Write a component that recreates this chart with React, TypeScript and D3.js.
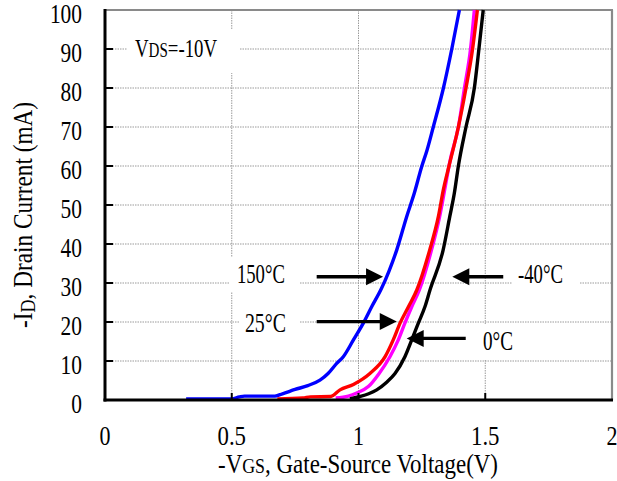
import React from 'react';
import * as d3 from 'd3';

// ---- data ----
const xTickValues = [0, 0.5, 1, 1.5, 2];
const xTickLabels = ['0', '0.5', '1', '1.5', '2'];
const yTickValues = [0, 10, 20, 30, 40, 50, 60, 70, 80, 90, 100];
const yTickLabels = ['0', '10', '20', '30', '40', '50', '60', '70', '80', '90', '100'];

const vgs150: number[] = [0.32, 0.5, 0.53, 0.55, 0.67, 0.7, 0.75, 0.8, 0.848, 0.88, 0.914, 0.94, 0.98, 1.019, 1.052, 1.09, 1.12, 1.151, 1.19, 1.22, 1.25, 1.27, 1.295, 1.335, 1.368, 1.398];
const id150: number[] = [0.3, 0.3, 0.8, 1.0, 1.0, 1.6, 2.7, 3.7, 5.1, 6.8, 9.4, 11.1, 15.4, 19.7, 23.9, 28.5, 33, 38.5, 47, 53, 60, 64, 70, 80, 90, 100];

const vgs25: number[] = [0.68, 0.78, 0.81, 0.89, 0.927, 0.98, 1.045, 1.105, 1.137, 1.164, 1.197, 1.23, 1.281, 1.315, 1.335, 1.357, 1.394, 1.424, 1.45, 1.469];
const id25: number[] = [0.3, 0.5, 0.8, 0.9, 2.6, 4.0, 6.8, 11.1, 15.4, 19.7, 23.9, 28.2, 38.5, 47, 54, 60, 70, 80, 90, 100];

const vgs0: number[] = [0.91, 0.96, 0.993, 1.04, 1.078, 1.124, 1.157, 1.183, 1.21, 1.24, 1.288, 1.32, 1.343, 1.36, 1.394, 1.418, 1.442, 1.457];
const id0: number[] = [0.5, 1.0, 1.8, 3.5, 6.5, 11.1, 15.4, 19.7, 23.9, 28.2, 38.5, 47, 55, 61, 70, 80, 90, 100];

const vgsM40: number[] = [0.966, 1.006, 1.04, 1.072, 1.11, 1.144, 1.183, 1.21, 1.236, 1.262, 1.282, 1.334, 1.36, 1.378, 1.394, 1.424, 1.457, 1.475, 1.492];
const idM40: number[] = [0.3, 0.9, 1.6, 2.6, 4.5, 6.8, 11.1, 15.4, 19.7, 23.9, 28.2, 38.5, 47, 53, 60, 70, 80, 90, 100];

const seriesNames = ['150°C', '25°C', '0°C', '-40°C'];

// ---- layout / style ----
const W = 617, H = 481;
const X0 = 105, X1 = 612, Y0 = 400, Y1 = 10;
const FONT = '"Liberation Serif", "Times New Roman", serif';

const x = d3.scaleLinear().domain([0, 2]).range([X0, X1]);
const y = d3.scaleLinear().domain([0, 100]).range([Y0, Y1]);

const seriesStyle = [
  { v: vgs150, i: id150, color: '#0000ff' },
  { v: vgs0, i: id0, color: '#ff00ff' },
  { v: vgs25, i: id25, color: '#ff0000' },
  { v: vgsM40, i: idM40, color: '#000000' },
];

// annotation: label name, label anchor (data), arrow tail/tip (data), label width, white box (px)
const annots = [
  { name: seriesNames[0], lv: 0.615, li: 29.9, w: 48, tail: 0.835, tip: 1.097, ai: 31.6, box: [230, 257, 70, 35] },
  { name: seriesNames[1], lv: 0.633, li: 17.5, w: 41, tail: 0.835, tip: 1.151, ai: 20.1, box: [240, 306, 60, 30] },
  { name: seriesNames[3], lv: 1.718, li: 30, w: 45, tail: 1.571, tip: 1.37, ai: 31.6, box: [512, 262, 68, 30] },
  { name: seriesNames[2], lv: 1.55, li: 12.8, w: 30, tail: 1.423, tip: 1.19, ai: 15.8, box: [476, 324, 55, 35] },
];

const line = d3
  .line<[number, number]>()
  .x((d) => x(d[0]))
  .y((d) => y(d[1]))
  .curve(d3.curveMonotoneX);

function Arrow({ tail, tip, ai }: { tail: number; tip: number; ai: number }) {
  const xt = x(tail), xp = x(tip), yy = y(ai);
  const dir = xp > xt ? 1 : -1;
  const hl = 17, hw = 8.5;
  const xb = xp - dir * hl;
  return (
    <g>
      <line x1={xt} y1={yy} x2={xb + dir * 1} y2={yy} stroke="#000" strokeWidth={3.4} />
      <polygon points={`${xp},${yy} ${xb},${yy - hw} ${xb},${yy + hw}`} fill="#000" />
    </g>
  );
}

export default function App() {
  return (
    <svg
      width={W}
      height={H}
      style={{ position: 'absolute', left: 0, top: 0, background: '#fff' }}
      fontFamily={FONT}
    >
      <rect x={0} y={0} width={W} height={H} fill="#fff" />
      {/* grid */}
      <g stroke="#9a9a9a" strokeWidth={1} strokeDasharray="1.5,1">
        {yTickValues.slice(1, -1).map((t) => (
          <line key={'gy' + t} x1={X0} x2={X1} y1={y(t)} y2={y(t)} />
        ))}
        {xTickValues.slice(1, -1).map((t) => (
          <line key={'gx' + t} x1={x(t)} x2={x(t)} y1={Y1} y2={Y0} />
        ))}
      </g>
      {/* gray top / right frame */}
      <line x1={X0} x2={X1 + 1} y1={Y1} y2={Y1} stroke="#8a8a8a" strokeWidth={2.2} />
      <line x1={X1} x2={X1} y1={Y1} y2={Y0} stroke="#8a8a8a" strokeWidth={2.2} />

      {/* white boxes behind labels */}
      <rect x={127} y={30} width={113} height={43} fill="#fff" />
      {annots.map((a) => (
        <rect key={'b' + a.name} x={a.box[0]} y={a.box[1]} width={a.box[2]} height={a.box[3]} fill="#fff" />
      ))}

      {/* curves */}
      {seriesStyle.map((s, k) => (
        <path
          key={'s' + k}
          d={line(s.v.map((v, j) => [v, s.i[j]] as [number, number])) || ''}
          fill="none"
          stroke={s.color}
          strokeWidth={3.4}
          strokeLinejoin="round"
        />
      ))}

      {/* axes */}
      <line x1={X0} x2={X0} y1={Y1 - 1} y2={Y0 + 1.5} stroke="#000" strokeWidth={3} />
      <line x1={X0 - 1.5} x2={X1 + 1} y1={Y0} y2={Y0} stroke="#000" strokeWidth={3} />
      {yTickValues.slice(1, -1).map((t) => (
        <line key={'ty' + t} x1={X0} x2={X0 + 8} y1={y(t)} y2={y(t)} stroke="#000" strokeWidth={2} />
      ))}
      {xTickValues.slice(1, -1).map((t) => (
        <line key={'tx' + t} x1={x(t)} x2={x(t)} y1={Y0} y2={Y0 - 7} stroke="#000" strokeWidth={2} />
      ))}

      {/* tick labels */}
      {yTickValues.map((t, k) => (
        <text
          key={'yl' + t}
          x={82}
          y={y(t) + 12.5}
          fontSize={27}
          textAnchor="end"
          textLength={yTickLabels[k].length * 10.7}
          lengthAdjust="spacingAndGlyphs"
          fill="#000"
        >
          {yTickLabels[k]}
        </text>
      ))}
      {xTickValues.map((t, k) => (
        <text
          key={'xl' + t}
          x={x(t)}
          y={445}
          fontSize={27}
          textAnchor="middle"
          textLength={xTickLabels[k].length === 1 ? 11 : 28.5}
          lengthAdjust="spacingAndGlyphs"
          fill="#000"
        >
          {xTickLabels[k]}
        </text>
      ))}

      {/* axis titles */}
      <text x={358} y={473} fontSize={27} textAnchor="middle" textLength={280} lengthAdjust="spacingAndGlyphs">
        -V<tspan fontSize={21}>GS</tspan>, Gate-Source Voltage(V)
      </text>
      <text
        transform={`translate(32,215) rotate(-90)`}
        fontSize={27}
        textAnchor="middle"
        textLength={226}
        lengthAdjust="spacingAndGlyphs"
      >
        -I<tspan fontSize={21} dy={3}>D</tspan>
        <tspan dy={-3}>, Drain Current (mA)</tspan>
      </text>

      {/* VDS annotation */}
      <text x={135} y={56.7} fontSize={25} textLength={82} lengthAdjust="spacingAndGlyphs">
        V<tspan fontSize={20}>DS</tspan>=-10V
      </text>

      {/* temperature annotations */}
      {annots.map((a) => (
        <g key={'a' + a.name}>
          <text
            x={x(a.lv)}
            y={y(a.li)}
            fontSize={27}
            textAnchor="middle"
            textLength={a.w}
            lengthAdjust="spacingAndGlyphs"
          >
            {a.name}
          </text>
          <Arrow tail={a.tail} tip={a.tip} ai={a.ai} />
        </g>
      ))}
    </svg>
  );
}
